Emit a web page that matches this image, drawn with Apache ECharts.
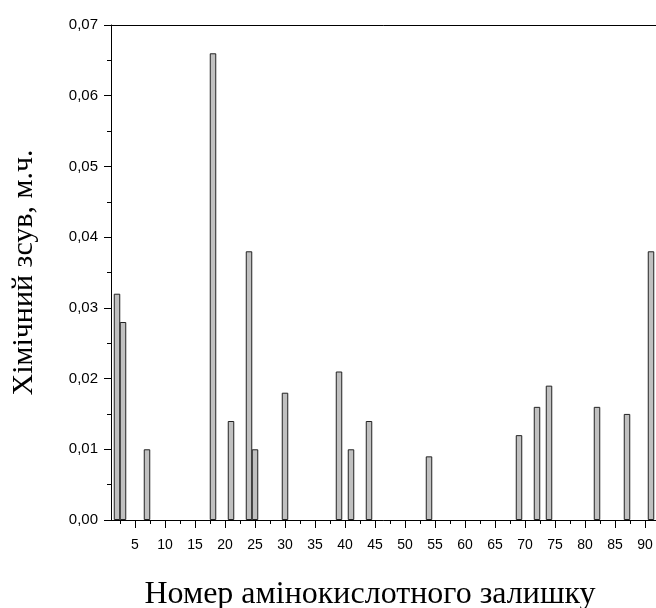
<!DOCTYPE html>
<html>
<head>
<meta charset="utf-8">
<script src="https://cdn.jsdelivr.net/npm/echarts@6/dist/echarts.min.js"></script>
<style>
  html, body { margin: 0; padding: 0; background: #fff; }
  #chart { width: 656px; height: 608px; }
</style>
</head>
<body>
<div id="chart"></div>
<script>
// residue numbers and chemical shift changes (ppm)
const residues = [2, 3, 7, 18, 21, 24, 25, 30, 39, 41, 44, 54, 69, 72, 74, 82, 87, 91]
const shifts = [0.032, 0.028, 0.010, 0.066, 0.014, 0.038, 0.010, 0.018, 0.021, 0.010, 0.014, 0.009, 0.012, 0.016, 0.019, 0.016, 0.015, 0.038]
const xTicks = [5, 10, 15, 20, 25, 30, 35, 40, 45, 50, 55, 60, 65, 70, 75, 80, 85, 90]
const xMinorTicks = [2.5, 7.5, 12.5, 17.5, 22.5, 27.5, 32.5, 37.5, 42.5, 47.5, 52.5, 57.5, 62.5, 67.5, 72.5, 77.5, 82.5, 87.5]

const xTitle = 'Номер амінокислотного залишку'
const yTitle = 'Хімічний зсув, м.ч.'

const chart = echarts.init(document.getElementById('chart'), null, { renderer: 'canvas' })

const sans = 'Liberation Sans, Arial, sans-serif'
const serif = 'Liberation Serif, Times New Roman, serif'

chart.setOption({
	animation: false,
	backgroundColor: '#fff',
	grid: {
		left: 111,
		top: 25,
		width: 546,
		height: 495,
		outerBoundsMode: 'none',
		containLabel: false,
	},
	xAxis: [
		{
			type: 'value',
			position: 'bottom',
			min: 1,
			max: 92,
			name: xTitle,
			nameLocation: 'middle',
			nameGap: 59,
			nameTextStyle: { fontFamily: serif, fontSize: 32, color: '#000', padding: [0, 28, 0, 0] },
			splitLine: { show: false },
			axisLine: { show: true, lineStyle: { color: '#000', width: 1 } },
			axisTick: { show: true, length: 8, customValues: xTicks, lineStyle: { color: '#000' } },
			axisLabel: { fontFamily: sans, fontSize: 14, color: '#000', margin: 18, customValues: xTicks },
		},
		{
			// minor ticks between the labelled ones
			type: 'value',
			position: 'bottom',
			min: 1,
			max: 92,
			splitLine: { show: false },
			axisLine: { show: false },
			axisLabel: { show: false },
			axisTick: { show: true, length: 4, customValues: xMinorTicks, lineStyle: { color: '#000' } },
		},
		{
			// frame line on top
			type: 'value',
			position: 'top',
			min: 1,
			max: 92,
			splitLine: { show: false },
			axisLine: { show: true, lineStyle: { color: '#000', width: 1 } },
			axisLabel: { show: false },
			axisTick: { show: false },
		},
	],
	yAxis: {
		type: 'value',
		min: 0,
		max: 0.07,
		interval: 0.01,
		name: yTitle,
		nameLocation: 'middle',
		nameGap: 72,
		nameTextStyle: { fontFamily: serif, fontSize: 30, color: '#000' },
		splitLine: { show: false },
		axisLine: { show: true, lineStyle: { color: '#000', width: 1 } },
		axisTick: { show: true, length: 7, lineStyle: { color: '#000' } },
		minorTick: { show: true, splitNumber: 2, length: 4, lineStyle: { color: '#000' } },
		axisLabel: {
			fontFamily: sans,
			fontSize: 15,
			color: '#000',
			margin: 13,
			formatter: (v) => v.toFixed(2).replace('.', ','),
		},
	},
	series: [
		{
			type: 'bar',
			xAxisIndex: 0,
			data: residues.map((r, i) => [r, shifts[i]]),
			barWidth: 6.5,
			itemStyle: {
				color: '#c0c0c0',
				borderColor: '#222',
				borderWidth: 1,
			},
		},
	],
})
</script>
</body>
</html>
